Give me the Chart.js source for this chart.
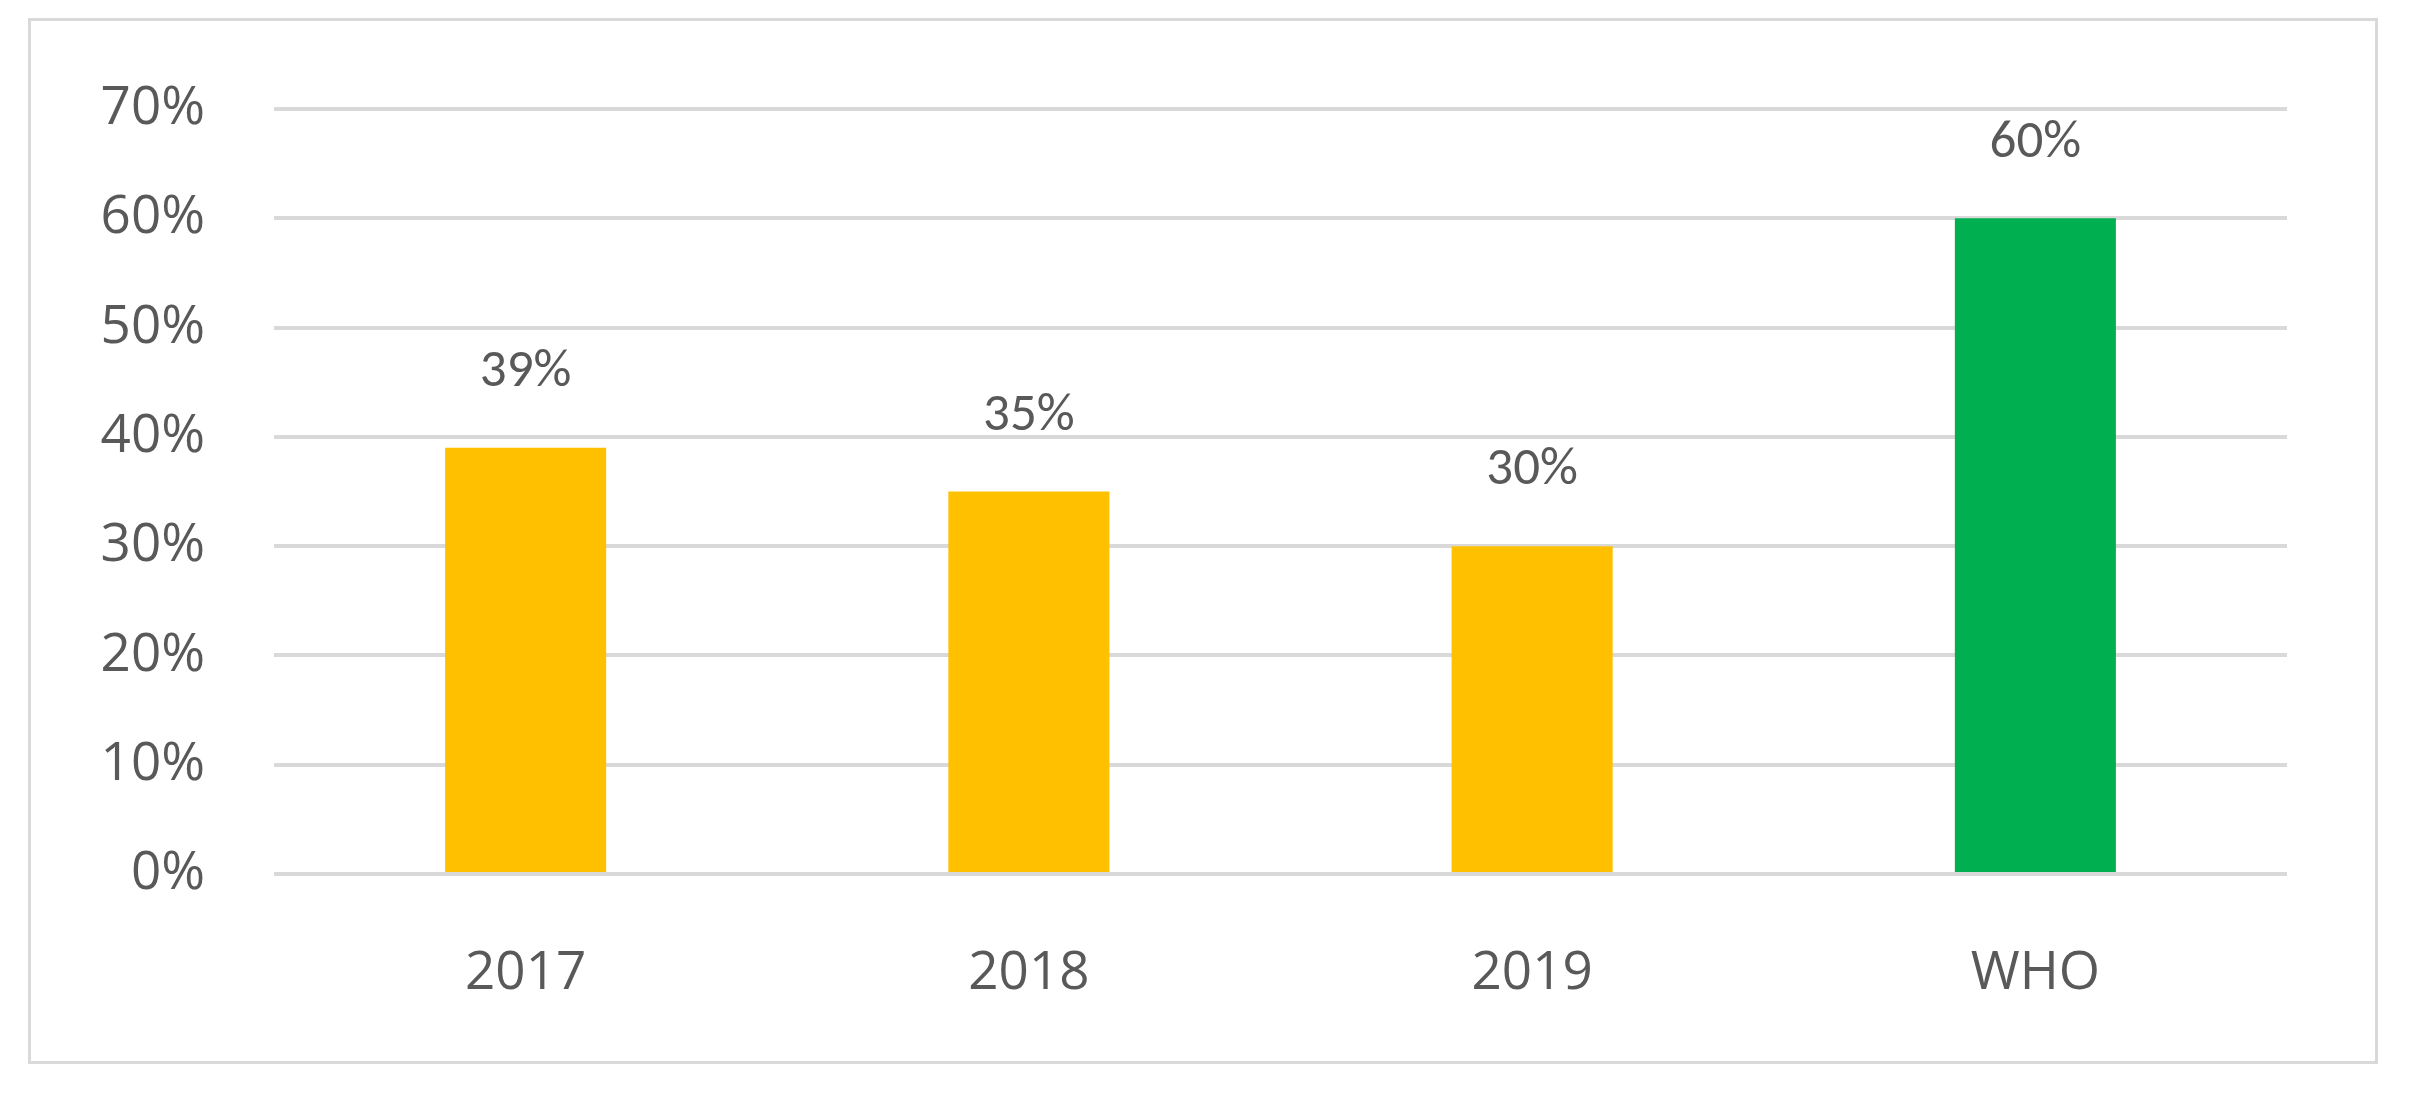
<!DOCTYPE html>
<html><head><meta charset="utf-8">
<script src="https://cdn.jsdelivr.net/npm/chart.js@4/dist/chart.umd.min.js"></script>
<style>
html,body{margin:0;padding:0;background:#fff;width:2412px;height:1112px;overflow:hidden}
#frame{position:absolute;left:28px;top:18px;width:2344px;height:1040px;border:3px solid #d9d9d9}
#wrap{position:absolute;left:0;top:0;width:2412px;height:1112px}
</style></head><body>
<div id="frame"></div>
<div id="wrap"><canvas id="c"></canvas></div>
<script>
const categories = ["2017","2018","2019","WHO"];
const values = [39,35,30,60];
const barColors = ["#FFC000","#FFC000","#FFC000","#00B050"];
const yTicks = [0,10,20,30,40,50,60,70];

const labelPlugin = {
  id:'labels',
  afterDatasetsDraw(chart){
    const ctx = chart.ctx;
    ctx.save();
    ctx.font = '53px Calibri, "Open Sans", "Liberation Sans", sans-serif';
    ctx.fillStyle = '#595959';
    ctx.textAlign = 'center';
    ctx.textBaseline = 'middle';
    chart.getDatasetMeta(0).data.forEach((el,i)=>{
      ctx.fillText(values[i]+'%', el.x, el.y-75);
    });
    ctx.restore();
  }
};

new Chart(document.getElementById('c'),{
  type:'bar',
  data:{labels:categories,datasets:[{data:values,backgroundColor:barColors,categoryPercentage:1,barPercentage:0.32}]},
  options:{
    responsive:true,maintainAspectRatio:false,animation:false,
    layout:{padding:{left:0,top:109,right:125,bottom:0}},
    plugins:{legend:{display:false},tooltip:{enabled:false}},
    scales:{
      x:{grid:{display:false,drawTicks:false},border:{display:false},
         ticks:{color:'#595959',padding:68,font:{size:53,family:'"Open Sans", "Liberation Sans", sans-serif'}},
         afterFit(s){s.height=238;}},
      y:{min:0,max:70,afterBuildTicks(s){s.ticks=yTicks.map(v=>({value:v}));},
         grid:{color:'#d9d9d9',lineWidth:4,drawTicks:false},border:{display:false},
         ticks:{color:'#595959',padding:69,callback:v=>v+'%',font:{size:53,family:'"Open Sans", "Liberation Sans", sans-serif'}},
         afterFit(s){s.width=274;}}
    }
  },
  plugins:[labelPlugin]
});
</script>
</body></html>
